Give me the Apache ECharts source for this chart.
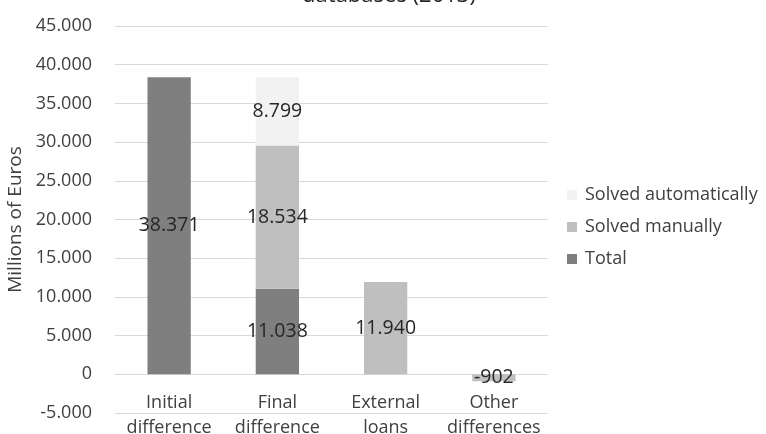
<!DOCTYPE html>
<html>
<head>
<meta charset="utf-8">
<script src="https://cdn.jsdelivr.net/npm/echarts@6/dist/echarts.min.js"></script>
<style>html,body{margin:0;padding:0;background:#fff}#c{width:766px;height:434px}</style>
</head>
<body>
<div id="c"></div>
<script>
var categories = ['Initial\ndifference', 'Final\ndifference', 'External\nloans', 'Other\ndifferences'];
var totalValues = [38371, 11038, null, null];
var manualValues = [null, 18534, 11940, -902];
var autoValues = [null, 8799, null, null];
var yTicks = { min: -5000, max: 45000, interval: 5000 };

function fmt(v) {
  var neg = v < 0; var s = String(Math.abs(Math.round(v)));
  s = s.replace(/\B(?=(\d{3})+(?!\d))/g, '.');
  return (neg ? '-' : '') + s;
}
var FONT = 'Open Sans';
var TXT = '#404040';
var lbl = { show: true, position: 'inside', color: '#262626', fontSize: 19.5, fontFamily: FONT,
  formatter: function (p) { return fmt(p.value); } };

var gridTop = 26, gridBottom = 21, H = 434;
var plotH = H - gridTop - gridBottom;
var zeroOffset = -plotH * (0 - yTicks.min) / (yTicks.max - yTicks.min);

var chart = echarts.init(document.getElementById('c'));
chart.setOption({
  animation: false,
  title: { text: 'databases (2013)', left: 384, textAlign: 'center', top: -20,
    textStyle: { fontSize: 22, lineHeight: 22, fontWeight: 'normal', color: '#262626', fontFamily: FONT } },
  grid: { left: 115, right: 218, top: gridTop, bottom: gridBottom, containLabel: false, outerBoundsMode: 'none' },
  legend: {
    orient: 'vertical', left: 567, top: 186, itemGap: 14, padding: 0,
    itemWidth: 10, itemHeight: 10, icon: 'rect',
    data: ['Solved automatically', 'Solved manually', 'Total'],
    textStyle: { fontSize: 18, lineHeight: 18, color: TXT, fontFamily: FONT, padding: [0, 0, 0, 3] }
  },
  xAxis: {
    type: 'category', data: categories, offset: zeroOffset,
    axisLine: { onZero: false, lineStyle: { color: '#d9d9d9' } },
    axisTick: { show: false },
    axisLabel: { fontSize: 18, color: TXT, fontFamily: FONT, lineHeight: 25, margin: 16, interval: 0 }
  },
  yAxis: {
    type: 'value', min: yTicks.min, max: yTicks.max, interval: yTicks.interval,
    name: 'Millions of Euros', nameLocation: 'middle', nameGap: 79, nameRotate: 90,
    nameTextStyle: { fontSize: 19, color: TXT, fontFamily: FONT },
    axisLine: { show: false }, axisTick: { show: false },
    axisLabel: { fontSize: 18, color: TXT, fontFamily: FONT, margin: 23, formatter: function (v) { return fmt(v); } },
    splitLine: { lineStyle: { color: '#d9d9d9' } }
  },
  series: [
    { name: 'Total', type: 'bar', stack: 's', data: totalValues, barWidth: '40%',
      itemStyle: { color: '#7f7f7f' }, label: lbl },
    { name: 'Solved manually', type: 'bar', stack: 's', data: manualValues, barWidth: '40%',
      itemStyle: { color: '#bfbfbf' }, label: lbl },
    { name: 'Solved automatically', type: 'bar', stack: 's', data: autoValues, barWidth: '40%',
      itemStyle: { color: '#f2f2f2' }, label: lbl }
  ]
});
</script>
</body>
</html>
